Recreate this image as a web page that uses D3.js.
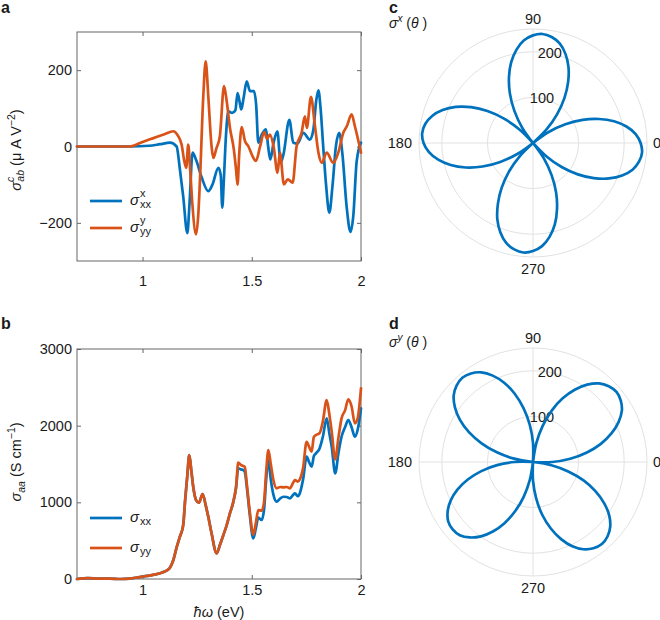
<!DOCTYPE html>
<html>
<head>
<meta charset="utf-8">
<script src="https://cdn.jsdelivr.net/npm/d3@7"></script>
<style>
  body { margin: 0; background: #fff; }
  text { font-family: "Liberation Sans", Arial, Helvetica, sans-serif; fill: #1a1a1a; }
</style>
</head>
<body>
<svg id="chart" width="660" height="620"></svg>
<script>
// ---------------- DATA ----------------
// panel a: shift current conductivity (uA/V^2) vs photon energy (eV)
const energyXXa = [0.70, 0.94, 1.03, 1.08, 1.126, 1.156, 1.171, 1.186, 1.205, 1.215, 1.229, 1.245, 1.27, 1.301, 1.32, 1.347, 1.358, 1.365, 1.372, 1.382, 1.393, 1.41, 1.425, 1.435, 1.445, 1.452, 1.462, 1.477, 1.492, 1.51, 1.52, 1.53, 1.545, 1.565, 1.575, 1.585, 1.60, 1.617, 1.632, 1.645, 1.672, 1.69, 1.71, 1.736, 1.766, 1.782, 1.795, 1.805, 1.815, 1.827, 1.84, 1.855, 1.87, 1.885, 1.90, 1.915, 1.934, 1.952, 1.965, 1.98, 2.00];
const sigmaXXa = [0, 0, 2, 6, 10, 0, -60, -130, -227, -150, -16, -35, -80, -117, -100, -56, -75, -160, -90, 30, 92, 88, 95, 140, 115, 97, 125, 171, 145, 145, 110, 10, 30, 45, 0, -34, 10, 40, -43, -21, 70, 10, 8, 36, 18, 44, 120, 147, 100, 0, -100, -173, -100, 0, 36, -20, -156, -224, -180, -40, 10];
const energyYYa = [0.70, 0.94, 1.00, 1.05, 1.10, 1.141, 1.16, 1.179, 1.19, 1.20, 1.209, 1.218, 1.228, 1.245, 1.255, 1.263, 1.278, 1.289, 1.301, 1.316, 1.324, 1.338, 1.354, 1.373, 1.385, 1.40, 1.418, 1.428, 1.435, 1.442, 1.454, 1.469, 1.485, 1.50, 1.519, 1.538, 1.557, 1.57, 1.583, 1.60, 1.618, 1.629, 1.647, 1.665, 1.687, 1.705, 1.728, 1.743, 1.752, 1.771, 1.788, 1.805, 1.82, 1.843, 1.873, 1.896, 1.919, 1.935, 1.957, 1.972, 2.00];
const sigmaYYa = [0, 0, 12, 22, 32, 40, 30, 5, -35, -56, 5, -60, -150, -230, -180, -86, 131, 223, 131, 0, -30, -5, 27, 158, 120, 49, -8, -60, -100, -25, 51, 14, 0, -21, -38, 0, 38, 20, 31, 0, -69, -16, -99, -86, -95, 0, 36, 79, 49, 130, 60, -16, -43, -16, -43, -16, 36, 53, 84, 53, -16];

// panel b: optical conductivity (S/cm)
const energyB = [0.70, 0.75, 0.80, 0.85, 0.90, 0.94, 0.98, 1.02, 1.06, 1.09, 1.11, 1.126, 1.141, 1.157, 1.171, 1.186, 1.195, 1.205, 1.214, 1.223, 1.232, 1.245, 1.258, 1.275, 1.29, 1.301, 1.316, 1.339, 1.355, 1.37, 1.385, 1.40, 1.415, 1.428, 1.438, 1.45, 1.461, 1.468, 1.477, 1.49, 1.507, 1.518, 1.53, 1.545, 1.556, 1.566, 1.576, 1.587, 1.599, 1.614, 1.63, 1.645, 1.66, 1.675, 1.69, 1.698, 1.71, 1.72, 1.735, 1.751, 1.763, 1.774, 1.784, 1.794, 1.81, 1.825, 1.843, 1.855, 1.866, 1.882, 1.897, 1.911, 1.927, 1.942, 1.957, 1.972, 1.985, 2.00];
const sigmaYYb = [0, 12, 5, 5, 0, 5, 22, 40, 60, 85, 110, 150, 248, 421, 552, 700, 1030, 1350, 1617, 1420, 1204, 1030, 995, 1108, 950, 812, 596, 335, 450, 574, 700, 857, 1000, 1200, 1517, 1490, 1473, 1465, 1248, 900, 580, 720, 900, 890, 1000, 1400, 1682, 1500, 1291, 1183, 1200, 1196, 1200, 1183, 1260, 1291, 1270, 1300, 1450, 1790, 1720, 1660, 1850, 1878, 1900, 2050, 2334, 2150, 1921, 1561, 1850, 2095, 2200, 2343, 2250, 2030, 2100, 2487];
const sigmaXXb = [0, 12, 5, 5, 0, 5, 22, 40, 60, 85, 110, 150, 248, 421, 552, 700, 1030, 1350, 1617, 1420, 1204, 1030, 995, 1108, 950, 812, 596, 335, 450, 574, 700, 857, 1000, 1190, 1443, 1430, 1422, 1400, 1210, 860, 530, 650, 800, 770, 900, 1300, 1552, 1300, 1100, 1008, 1050, 1073, 1070, 1052, 1100, 1117, 1080, 1120, 1300, 1595, 1520, 1464, 1600, 1639, 1700, 1850, 2095, 1900, 1725, 1378, 1650, 1856, 1980, 2073, 1980, 1856, 1950, 2226];

// panels c, d: angular dependence (degrees -> value)
const polarTheta = [0, 5, 10, 15, 20, 25, 30, 35, 40, 45, 50, 55, 60, 65, 70, 75, 80, 85, 90, 95, 100, 105, 110, 115, 120, 125, 130, 135, 140, 145, 150, 155, 160, 165, 170, 175, 180, 185, 190, 195, 200, 205, 210, 215, 220, 225, 230, 235, 240, 245, 250, 255, 260, 265, 270, 275, 280, 285, 290, 295, 300, 305, 310, 315, 320, 325, 330, 335, 340, 345, 350, 355];
const sigmaXTheta = [236, 226, 208, 184, 154, 120, 82, 42, 0, 42, 82, 120, 154, 184, 208, 226, 236, 240, 236, 226, 208, 184, 154, 120, 82, 42, 0, 42, 83, 122, 157, 187, 211, 229, 240, 244, 240, 229, 211, 187, 157, 122, 83, 42, 0, 42, 82, 120, 154, 185, 209, 227, 237, 241, 237, 227, 209, 185, 154, 120, 82, 42, 0, 42, 82, 120, 154, 184, 208, 226, 236, 240];
const sigmaYTheta = [42, 82, 120, 154, 183, 207, 225, 235, 239, 235, 225, 207, 183, 154, 120, 82, 42, 0, 42, 82, 120, 155, 185, 209, 227, 237, 241, 237, 227, 209, 185, 155, 120, 82, 42, 0, 40, 79, 115, 148, 176, 199, 216, 227, 230, 227, 216, 199, 176, 148, 115, 79, 40, 0, 41, 80, 118, 151, 180, 204, 221, 231, 235, 231, 221, 204, 180, 151, 118, 80, 41, 0];

const energyTicks = [1, 1.5, 2];
const yTicksA = [-200, 0, 200];
const yTicksB = [0, 1000, 2000, 3000];
const radialTicks = [100, 200];
const angleTicks = [0, 90, 180, 270];

// ---------------- DRAWING ----------------
const BLUE = "#0072BD", ORANGE = "#D95319";
const svg = d3.select("#chart");
const FS = 14.5;
const LW = 2.7;

const xA = d3.scaleLinear().domain([0.7, 2]).range([77, 361]);
const yA = d3.scaleLinear().domain([-300, 300]).range([261, 32]);
const xB = d3.scaleLinear().domain([0.7, 2]).range([77, 361]);
const yB = d3.scaleLinear().domain([0, 3000]).range([579, 349]);

function styleAxis(g) {
  g.select(".domain").remove();
  g.selectAll(".tick line").attr("stroke", "#666").attr("stroke-width", 1);
  g.selectAll(".tick text").attr("font-size", FS).attr("fill", "#1a1a1a")
    .style("font-family", '"Liberation Sans", Arial, sans-serif');
}

function frame(x, y, yTicks, xPad) {
  const [x0, x1] = x.range();
  const [yb, yt] = y.range();
  const fmt = d3.format("");
  svg.append("g").attr("transform", `translate(0,${yb})`)
    .call(d3.axisBottom(x).tickValues(energyTicks).tickFormat(fmt).tickSize(-4).tickPadding(xPad))
    .call(styleAxis);
  svg.append("g").attr("transform", `translate(0,${yt})`)
    .call(d3.axisTop(x).tickValues(energyTicks).tickFormat("").tickSize(-4))
    .call(styleAxis);
  svg.append("g").attr("transform", `translate(${x0},0)`)
    .call(d3.axisLeft(y).tickValues(yTicks).tickFormat(fmt).tickSize(-4).tickPadding(5))
    .call(styleAxis);
  svg.append("g").attr("transform", `translate(${x1},0)`)
    .call(d3.axisRight(y).tickValues(yTicks).tickFormat("").tickSize(-4))
    .call(styleAxis);
  svg.append("rect").attr("x", x0).attr("y", yt).attr("width", x1 - x0).attr("height", yb - yt)
    .attr("fill", "none").attr("stroke", "#666").attr("stroke-width", 1);
}

function drawLine(x, y, xs, ys, color) {
  const line = d3.line().x(d => x(d[0])).y(d => y(d[1])).curve(d3.curveMonotoneX);
  svg.append("path").datum(xs.map((e, i) => [e, ys[i]]))
    .attr("d", line).attr("fill", "none").attr("stroke", color)
    .attr("stroke-width", LW).attr("stroke-linejoin", "round").attr("stroke-linecap", "round");
}

// panel a
frame(xA, yA, yTicksA, 15);
drawLine(xA, yA, energyXXa, sigmaXXa, BLUE);
drawLine(xA, yA, energyYYa, sigmaYYa, ORANGE);

// panel b
frame(xB, yB, yTicksB, 6);
drawLine(xB, yB, energyB, sigmaXXb, BLUE);
drawLine(xB, yB, energyB, sigmaYYb, ORANGE);

// panel letters
[["a", 1, 13], ["b", 1, 329], ["c", 389, 13], ["d", 389, 329]].forEach(([t, x, y]) => {
  svg.append("text").attr("x", x).attr("y", y).attr("font-size", 16).attr("font-weight", "bold").attr("fill", "#000").text(t);
});

// legend helper
function legendItem(x0, y, color, sup, sub, dyT) {
  svg.append("line").attr("x1", x0).attr("x2", x0 + 32).attr("y1", y).attr("y2", y)
    .attr("stroke", color).attr("stroke-width", LW);
  const t = svg.append("text").attr("x", x0 + 40).attr("y", y + dyT).attr("font-size", 15);
  t.append("tspan").attr("font-style", "italic").text("σ");
  if (sup) svg.append("text").attr("x", x0 + 50).attr("y", y + dyT - 8).attr("font-size", 11).text(sup);
  svg.append("text").attr("x", x0 + 50).attr("y", y + dyT + 3).attr("font-size", 11).text(sub);
}
legendItem(90, 201, BLUE, "x", "xx", 4);
legendItem(90, 228, ORANGE, "y", "yy", 4);
legendItem(90, 518, BLUE, null, "xx", 4);
legendItem(90, 548, ORANGE, null, "yy", 4);

// y label a
{
  const g = svg.append("g").attr("transform", "translate(21,150) rotate(-90)");
  const t = g.append("text").attr("text-anchor", "middle").attr("font-size", 14.5);
  t.append("tspan").attr("font-style", "italic").text("σ");
  t.append("tspan").attr("font-style", "italic").attr("font-size", 10.5).attr("dy", -7).text("c");
  t.append("tspan").attr("font-style", "italic").attr("font-size", 10.5).attr("dx", -5).attr("dy", 10).text("ab");
  t.append("tspan").attr("dy", -3).text(" (μ A V");
  t.append("tspan").attr("font-size", 10.5).attr("dy", -6).text("−2");
  t.append("tspan").attr("dy", 6).text(")");
}
// y label b
{
  const g = svg.append("g").attr("transform", "translate(21,462) rotate(-90)");
  const t = g.append("text").attr("text-anchor", "middle").attr("font-size", 14.5);
  t.append("tspan").attr("font-style", "italic").text("σ");
  t.append("tspan").attr("font-style", "italic").attr("font-size", 10.5).attr("dy", 4).text("aa");
  t.append("tspan").attr("dy", -4).text(" (S cm");
  t.append("tspan").attr("font-size", 10.5).attr("dy", -6).text("−1");
  t.append("tspan").attr("dy", 6).text(")");
}
// x label b
{
  const t = svg.append("text").attr("x", 219).attr("y", 617).attr("text-anchor", "middle").attr("font-size", 14.5);
  t.append("tspan").attr("font-style", "italic").text("ħω");
  t.append("tspan").text(" (eV)");
}

// polar panels
function polar(cx, cy, theta, values, supLabel) {
  const rs = d3.scaleLinear().domain([0, 250]).range([0, 114]);
  const g = svg.append("g").attr("transform", `translate(${cx},${cy})`);
  const grid = "#e2e2e2";
  radialTicks.concat([250]).forEach(v => {
    g.append("circle").attr("r", rs(v)).attr("fill", "none").attr("stroke", grid).attr("stroke-width", 1);
  });
  angleTicks.forEach(a => {
    const rad = a * Math.PI / 180;
    g.append("line").attr("x1", 0).attr("y1", 0)
      .attr("x2", rs(250) * Math.cos(rad)).attr("y2", -rs(250) * Math.sin(rad))
      .attr("stroke", grid).attr("stroke-width", 1);
  });
  radialTicks.forEach(v => {
    const rad = 80 * Math.PI / 180;
    g.append("text").attr("x", rs(v) * Math.cos(rad) + 1).attr("y", -rs(v) * Math.sin(rad))
      .attr("dy", "0.35em").attr("text-anchor", "middle").attr("font-size", FS).text(v);
  });
  const R = rs(250);
  g.append("text").attr("x", R + 6).attr("y", 0).attr("dy", "0.35em").attr("text-anchor", "start").attr("font-size", FS).text(angleTicks[0]);
  g.append("text").attr("x", 0).attr("y", -R - 5).attr("text-anchor", "middle").attr("font-size", FS).text(angleTicks[1]);
  g.append("text").attr("x", -R - 7).attr("y", 0).attr("dy", "0.35em").attr("text-anchor", "end").attr("font-size", FS).text(angleTicks[2]);
  g.append("text").attr("x", 0).attr("y", R + 17).attr("text-anchor", "middle").attr("font-size", FS).text(angleTicks[3]);

  const pts = theta.map((t, i) => ({ t, r: values[i] }));
  const z = pts.findIndex(p => p.r === 0);
  const rot = pts.slice(z).concat(pts.slice(0, z).map(p => ({ t: p.t + 360, r: p.r })));
  rot.push({ t: rot[0].t + 360, r: 0 });
  const segs = [];
  let cur = [rot[0]];
  for (let i = 1; i < rot.length; i++) {
    cur.push(rot[i]);
    if (rot[i].r === 0) { segs.push(cur); cur = [rot[i]]; }
  }
  const line = d3.lineRadial()
    .angle(p => Math.PI / 2 - p.t * Math.PI / 180)
    .radius(p => rs(p.r))
    .curve(d3.curveCatmullRom.alpha(0.5));
  g.append("path").attr("d", segs.map(s => line(s)).join(""))
    .attr("fill", "none").attr("stroke", BLUE).attr("stroke-width", LW).attr("stroke-linejoin", "round");

  const tx = 389, ty = cy - 115;
  const t = svg.append("text").attr("x", tx).attr("y", ty).attr("font-size", 14);
  t.append("tspan").attr("font-style", "italic").text("σ");
  t.append("tspan").attr("font-style", "italic").attr("font-size", 10).attr("dy", -6).text(supLabel);
  t.append("tspan").attr("dy", 6).text(" (");
  t.append("tspan").attr("font-style", "italic").text("θ");
  t.append("tspan").text(" )");
}
polar(533, 143, polarTheta, sigmaXTheta, "x");
polar(533, 462, polarTheta, sigmaYTheta, "y");
</script>
</body>
</html>
